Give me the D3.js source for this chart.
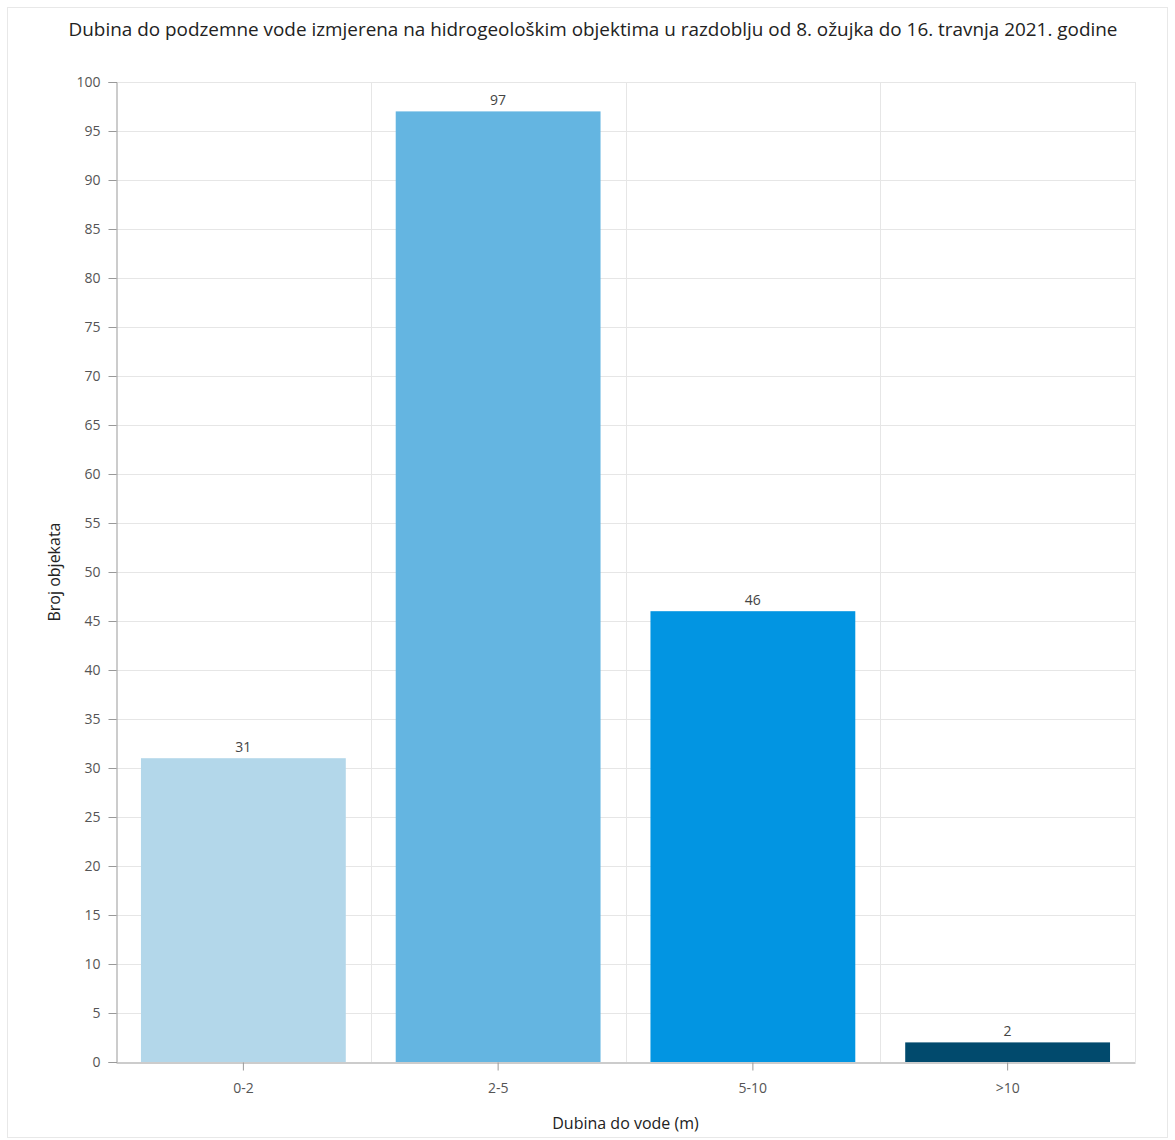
<!DOCTYPE html>
<html><head><meta charset="utf-8">
<script src="https://cdn.jsdelivr.net/npm/d3@7"></script>
<style>body{margin:0;background:#fff;font-family:"Open Sans","Noto Sans",sans-serif;}</style>
</head><body><svg id="c" width="1175" height="1140"></svg>
<script>
const categories = ["0-2", "2-5", "5-10", ">10"];
const values = [31, 97, 46, 2];
const colors = ["#b3d7ea", "#64b5e1", "#0295e2", "#014a6d"];
const yTicks = d3.range(0, 101, 5);
const title = "Dubina do podzemne vode izmjerena na hidrogeološkim objektima u razdoblju od 8. ožujka do 16. travnja 2021. godine";
const xTitle = "Dubina do vode (m)";
const yTitle = "Broj objekata";

const svg = d3.select("#c");
const m = {l:116, r:1135, t:82, b:1062};
svg.append("rect").attr("x",7.5).attr("y",7.5).attr("width",1160).attr("height",1130)
  .attr("fill","#fff").attr("stroke","#e8e8e8");

const x = d3.scaleBand().domain(categories).range([m.l, m.r]).paddingInner(0.196).paddingOuter(0.098);
const y = d3.scaleLinear().domain([0,100]).range([m.b, m.t]);

// horizontal grid
svg.append("g").selectAll("line").data(yTicks.filter(d=>d>0)).join("line")
  .attr("x1",m.l).attr("x2",m.r).attr("y1",d=>y(d)+0.5).attr("y2",d=>y(d)+0.5)
  .attr("stroke","#e6e6e6");
// vertical grid at band boundaries
svg.append("g").selectAll("line").data(d3.range(1,5)).join("line")
  .attr("x1",i=>Math.round(m.l+i*(m.r-m.l)/4)+0.5).attr("x2",i=>Math.round(m.l+i*(m.r-m.l)/4)+0.5)
  .attr("y1",m.t).attr("y2",m.b).attr("stroke","#e6e6e6");

// bars
svg.append("g").selectAll("rect").data(values).join("rect")
  .attr("x",(d,i)=>x(categories[i])).attr("width",x.bandwidth())
  .attr("y",d=>y(d)).attr("height",d=>y(0)-y(d)).attr("fill",(d,i)=>colors[i]);

// bar labels
svg.append("g").selectAll("text").data(values).join("text")
  .attr("x",(d,i)=>x(categories[i])+x.bandwidth()/2).attr("y",d=>y(d)-6)
  .attr("text-anchor","middle").attr("font-size",14).attr("fill","#444").text(d=>d);

// y axis
const ya = svg.append("g").attr("transform",`translate(${m.l+0.5},0)`)
  .call(d3.axisLeft(y).tickValues(yTicks).tickSize(8).tickPadding(8));
ya.select(".domain").attr("stroke","#999");
ya.selectAll(".tick line").attr("stroke","#999");
ya.selectAll("text").attr("font-size",14).attr("fill","#555").attr("font-family","Open Sans, sans-serif");

// x axis
const xa = svg.append("g").attr("transform",`translate(0,${m.b+0.5})`)
  .call(d3.axisBottom(x).tickSize(8).tickPadding(13).tickSizeOuter(0));
xa.select(".domain").attr("stroke","#999");
xa.selectAll(".tick line").attr("stroke","#999");
xa.selectAll("text").attr("font-size",14).attr("fill","#555").attr("font-family","Open Sans, sans-serif");

// titles
svg.append("text").attr("x",593).attr("y",36).attr("text-anchor","middle")
  .attr("font-size",18.9).attr("fill","#222").text(title);
svg.append("text").attr("x",(m.l+m.r)/2).attr("y",1129).attr("text-anchor","middle")
  .attr("font-size",16).attr("fill","#222").text(xTitle);
svg.append("text").attr("transform",`translate(60,${(m.t+m.b)/2}) rotate(-90)`).attr("text-anchor","middle")
  .attr("font-size",16).attr("fill","#222").text(yTitle);
</script></body></html>
